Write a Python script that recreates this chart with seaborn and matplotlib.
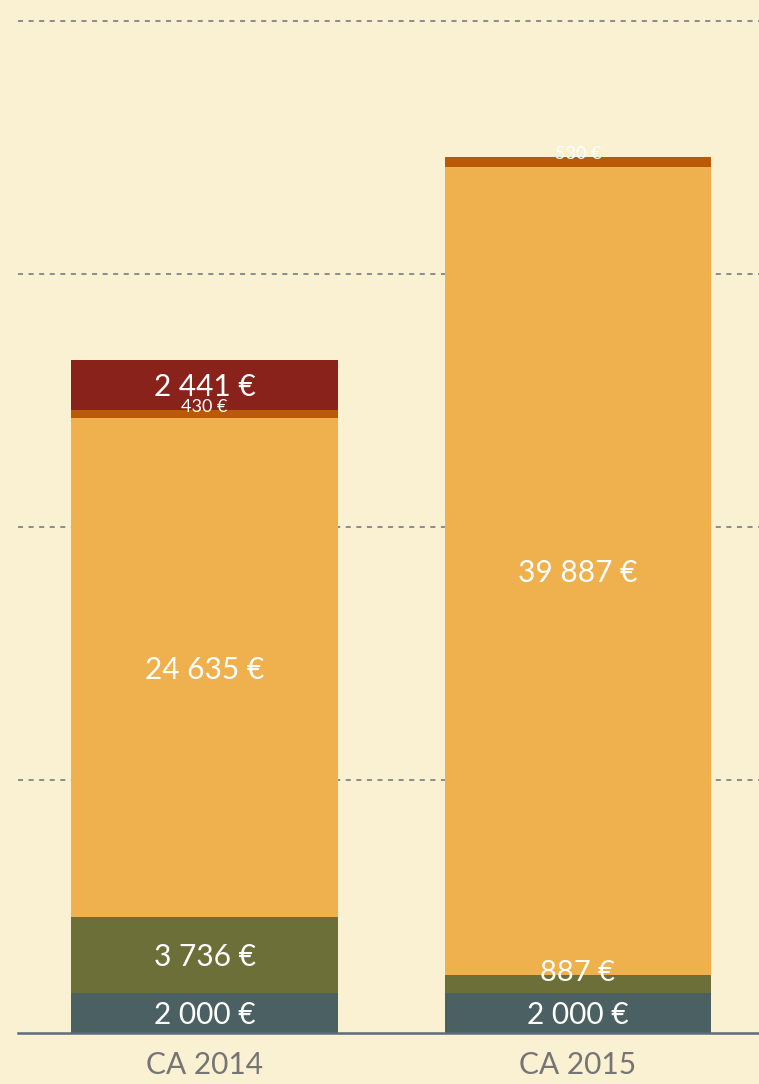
import numpy as np
import pandas as pd
import matplotlib
matplotlib.use("Agg")
import matplotlib.pyplot as plt
import seaborn as sns

# ---------- data ----------
categories = ["CA 2014", "CA 2015"]
base = [2000, 2000]
olive = [3736, 887]
main = [24635, 39887]
small = [430, 530]
top = [2441, 0]

layer_colors = ["#4A6063", "#6D6F39", "#EFB04E", "#BA5A08", "#88221A"]
bg = "#FAF0D2"

def fmt_eur(v):
    return f"{v:,}".replace(",", " ") + " €"

# ---------- figure ----------
sns.set_theme(style="white")
plt.rcParams["font.family"] = ["Lato", "DejaVu Sans"]

fig = plt.figure(figsize=(7.59, 10.84), dpi=100, facecolor=bg)
ax = fig.add_axes([18 / 759, 51 / 1084, (764.5 - 18) / 759, 1033 / 1084])
ax.set_facecolor(bg)

layers = [base, olive, main, small, top]
cum = np.cumsum(np.array(layers, dtype=float), axis=0)

# draw cumulative totals, tallest first, so each layer covers the one above
for i in range(len(layers) - 1, -1, -1):
    df = pd.DataFrame({"cat": categories, "val": cum[i]})
    sns.barplot(data=df, x="cat", y="val", color=layer_colors[i], saturation=1,
                width=0.714, errorbar=None, ax=ax, zorder=3, linewidth=0)

ax.set_xlim(-0.5, 1.5)
ax.set_ylim(0, 51050)

# labels
for j in range(len(categories)):
    for i, vals in enumerate(layers):
        v = vals[j]
        if v <= 0:
            continue
        lo = cum[i][j] - v
        hi = cum[i][j]
        if v < 1500:
            # thin segment: label sits just above it
            big = i == 1
            ax.annotate(fmt_eur(v), (j, hi), xytext=(0, 1.2 if big else 2.3),
                        textcoords="offset points", ha="center", va="center",
                        color="white", fontsize=21 if big else 13, zorder=5)
        else:
            ax.annotate(fmt_eur(v), (j, (lo + hi) / 2), xytext=(0, -1.5),
                        textcoords="offset points", ha="center", va="center",
                        color="white", fontsize=21.5, zorder=5)

# grid and axes
ax.set_yticks([12500, 25000, 37500, 50000])
ax.set_yticklabels([])
ax.yaxis.grid(True, color="#8E8E8E", linewidth=1.45, linestyle=(0, (2.5, 2.75)), zorder=0)
ax.xaxis.grid(False)
ax.set_axisbelow(True)
for s in ["top", "right", "left"]:
    ax.spines[s].set_visible(False)
ax.spines["bottom"].set_color("#5E6B7C")
ax.spines["bottom"].set_linewidth(1.8)
ax.spines["bottom"].set_zorder(4)
ax.set_xlabel("")
ax.set_ylabel("")
ax.tick_params(axis="x", length=0, pad=13, labelsize=21.5, labelcolor="#757575")
ax.tick_params(axis="y", length=0)

fig.savefig("out.png", dpi=100, facecolor=bg)
